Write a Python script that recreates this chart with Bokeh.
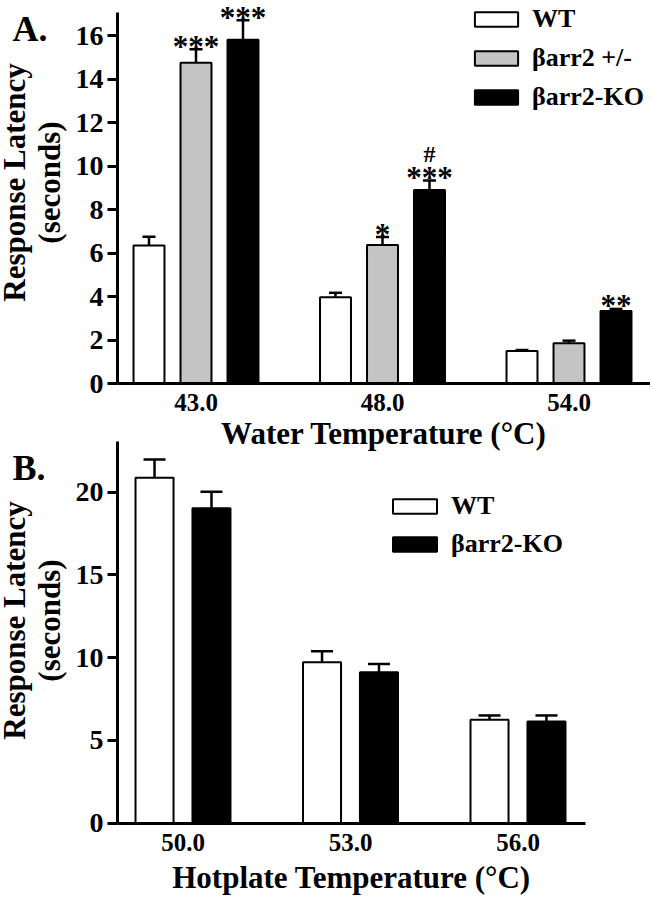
from bokeh.plotting import figure
from bokeh.models import (ColumnDataSource, FixedTicker, Whisker, TeeHead, Label, Range1d,
                          LinearAxis, Legend, LegendItem)
from bokeh.embed import file_html
from bokeh.resources import INLINE
from bokeh.core.properties import value

FONT = "Liberation Serif"

# ---------------- Panel A data ----------------
a_temps = ["43.0", "48.0", "54.0"]
a_series = ["WT", "\u03b2arr2 +/-", "\u03b2arr2-KO"]
a_wt = [6.35, 3.97, 1.49]
a_wt_err = [0.40, 0.20, 0.05]
a_het = [14.75, 6.37, 1.85]
a_het_err = [0.62, 0.36, 0.12]
a_ko = [15.80, 8.90, 3.33]
a_ko_err = [0.90, 0.43, 0.10]
a_yticks = [0, 2, 4, 6, 8, 10, 12, 14, 16]
a_star_group = [0, 0, 1, 1, 2]
a_star_series = [1, 2, 1, 2, 2]
a_star_text = ["***", "***", "*", "***", "**"]
a_hash_group = [1]
a_hash_series = [2]
a_hash_text = ["#"]

# ---------------- Panel B data ----------------
b_temps = ["50.0", "53.0", "56.0"]
b_series = ["WT", "\u03b2arr2-KO"]
b_wt = [20.87, 9.73, 6.25]
b_wt_err = [1.10, 0.66, 0.26]
b_ko = [19.03, 9.12, 6.15]
b_ko_err = [1.00, 0.50, 0.36]
b_yticks = [0, 5, 10, 15, 20]

Y_TITLE = "Response Latency\n(seconds)"
COLORS_A = ["white", "#c4c4c4", "black"]
COLORS_B = ["white", "black"]

# ---------------- layout (pixels inside the figure) ----------------
W, H = 650, 898
# panel A: first group centre, px per group, zero line, px per second
A_C0, A_K, A_Z, A_S = 195.5, 186.5, 383.0, 21.75
A_AXIS_X, A_AXIS_RIGHT, A_AXIS_TOP, A_TITLE_MID = 117.0, 650.0, 12.0, 182.0
A_OFFS, A_BW, A_CAP = [-0.252, 0.0, 0.252], 0.166, 13
# panel B
B_C0, B_K, B_Z, B_S = 182.5, 167.5, 822.7, 16.55
B_AXIS_X, B_AXIS_RIGHT, B_AXIS_TOP, B_TITLE_MID = 117.0, 585.0, 441.0, 620.0
B_OFFS, B_BW, B_CAP = [-0.17, 0.17], 0.227, 22

xa = Range1d(-A_C0 / A_K, (W - A_C0) / A_K)
ya = Range1d(-(H - A_Z) / A_S, A_Z / A_S)
xb = Range1d(-B_C0 / B_K, (W - B_C0) / B_K)
yb = Range1d(-(H - B_Z) / B_S, B_Z / B_S)

p = figure(width=W, height=H, output_backend="svg", toolbar_location=None,
           x_range=xa, y_range=ya, min_border=0)
p.extra_x_ranges = {"xb": xb}
p.extra_y_ranges = {"yb": yb}
p.xgrid.visible = False
p.ygrid.visible = False
p.outline_line_color = None


def style_x(ax, cats, label, label_standoff, title_standoff):
    ax.ticker = FixedTicker(ticks=list(range(len(cats))))
    ax.major_label_overrides = {i: c for i, c in enumerate(cats)}
    ax.axis_line_width = 3
    ax.axis_line_color = "black"
    ax.major_tick_line_color = None
    ax.major_tick_out = 0
    ax.major_tick_in = 0
    ax.minor_tick_line_color = None
    ax.major_label_text_font = FONT
    ax.major_label_text_font_style = "bold"
    ax.major_label_text_font_size = "25px"
    ax.major_label_text_color = "black"
    ax.major_label_standoff = label_standoff
    ax.axis_label = label
    ax.axis_label_text_font = FONT
    ax.axis_label_text_font_style = "bold"
    ax.axis_label_text_font_size = "31px"
    ax.axis_label_text_color = "black"
    ax.axis_label_standoff = title_standoff


def style_y(ax, ticks, with_title):
    ax.ticker = FixedTicker(ticks=ticks)
    ax.axis_line_width = 3
    ax.axis_line_color = "black"
    ax.major_tick_line_width = 3
    ax.major_tick_line_color = "black"
    ax.major_tick_out = 10
    ax.major_tick_in = 0
    ax.minor_tick_line_color = None
    ax.major_label_text_font = FONT
    ax.major_label_text_font_style = "bold"
    ax.major_label_text_font_size = "28px"
    ax.major_label_text_color = "black"
    ax.major_label_standoff = 4
    if with_title:
        # carrier axis: only its title is visible, centred where the reference has it
        ax.axis_line_alpha = 0
        ax.major_tick_line_alpha = 0
        ax.major_label_text_alpha = 0
        ax.axis_label = Y_TITLE
        ax.axis_label_text_font = FONT
        ax.axis_label_text_font_style = "bold"
        ax.axis_label_text_font_size = "31px"
        ax.axis_label_text_line_height = 1.0
        ax.axis_label_text_color = "black"
        ax.axis_label_standoff = 41


# ---- panel A axes (default ranges) ----
ax_a = p.xaxis[0]
ax_a.fixed_location = 0
ax_a.bounds = ((A_AXIS_X - A_C0) / A_K, (A_AXIS_RIGHT - A_C0) / A_K)
style_x(ax_a, a_temps, "Water Temperature (\u00b0C)", 10, 2)
ay_a = p.yaxis[0]
ay_a.fixed_location = (A_AXIS_X - A_C0) / A_K
ay_a.bounds = (0, (A_Z - A_AXIS_TOP) / A_S)
style_y(ay_a, a_yticks, False)
a_mid = (A_Z - A_TITLE_MID) / A_S
ayt_a = LinearAxis(fixed_location=(A_AXIS_X - A_C0) / A_K, bounds=(a_mid - 7, a_mid + 7))
style_y(ayt_a, a_yticks, True)
p.add_layout(ayt_a, "left")

# ---- panel B axes (extra ranges) ----
ax_b = LinearAxis(x_range_name="xb", y_range_name="yb", fixed_location=0,
                  bounds=((B_AXIS_X - B_C0) / B_K, (B_AXIS_RIGHT - B_C0) / B_K))
style_x(ax_b, b_temps, "Hotplate Temperature (\u00b0C)", 11, 5)
p.add_layout(ax_b, "below")
ay_b = LinearAxis(x_range_name="xb", y_range_name="yb",
                  fixed_location=(B_AXIS_X - B_C0) / B_K,
                  bounds=(0, (B_Z - B_AXIS_TOP) / B_S))
style_y(ay_b, b_yticks, False)
p.add_layout(ay_b, "left")
b_mid = (B_Z - B_TITLE_MID) / B_S
ayt_b = LinearAxis(x_range_name="xb", y_range_name="yb",
                   fixed_location=(B_AXIS_X - B_C0) / B_K, bounds=(b_mid - 9, b_mid + 9))
style_y(ayt_b, [10, 15, 20], True)
p.add_layout(ayt_b, "left")


def bars(series, vals, errs, colors, offs, bw, cap, xr, yr):
    items = []
    for s, (name, v, e, c) in enumerate(zip(series, vals, errs, colors)):
        xs = [g + offs[s] for g in range(len(v))]
        src = ColumnDataSource(dict(x=xs, top=v, upper=[a + b for a, b in zip(v, e)]))
        p.add_layout(Whisker(base="x", lower="top", upper="upper", source=src,
                             x_range_name=xr, y_range_name=yr,
                             line_width=2.5, line_color="black", lower_head=None,
                             upper_head=TeeHead(size=cap, line_width=2.5, line_color="black")))
        r = p.vbar(x="x", top="top", width=bw, source=src, fill_color=c, line_color="black",
                   line_width=2, x_range_name=xr, y_range_name=yr)
        items.append(LegendItem(label=name, renderers=[r]))
    return items


def legend(items, loc, gw, spacing):
    lg = Legend(items=items, location=loc, glyph_width=gw, glyph_height=18,
                label_standoff=9, label_text_font=FONT, label_text_font_style="bold",
                label_text_font_size="26px", label_text_color="black",
                border_line_color=None, background_fill_alpha=0, padding=0, margin=0,
                spacing=spacing, label_height=29)
    p.add_layout(lg)


items_a = bars(a_series, [a_wt, a_het, a_ko], [a_wt_err, a_het_err, a_ko_err], COLORS_A,
               A_OFFS, A_BW, A_CAP, "default", "default")
legend(items_a, (469, 786), 54, 9)
items_b = bars(b_series, [b_wt, b_ko], [b_wt_err, b_ko_err], COLORS_B,
               B_OFFS, B_BW, B_CAP, "xb", "yb")
legend(items_b, (387, 339), 55, 8)

vals_lookup = [a_wt, a_het, a_ko]
errs_lookup = [a_wt_err, a_het_err, a_ko_err]


def ann_source(groups, series, texts):
    return ColumnDataSource(dict(
        x=[g + A_OFFS[s] for g, s in zip(groups, series)],
        y=[vals_lookup[s][g] + errs_lookup[s][g] for g, s in zip(groups, series)],
        t=texts))


p.text(x="x", y="y", text="t", source=ann_source(a_star_group, a_star_series, a_star_text),
       text_font=value(FONT), text_font_style="bold", text_font_size="31px",
       text_align="center", text_baseline="alphabetic", text_color="black", y_offset=-3)
p.text(x="x", y="y", text="t", source=ann_source(a_hash_group, a_hash_series, a_hash_text),
       text_font=value(FONT), text_font_style="bold", text_font_size="24px",
       text_align="center", text_baseline="alphabetic", text_color="black", y_offset=-27)

for letter, ly in (("A.", H - 28), ("B.", H - 467)):
    p.add_layout(Label(x=12, y=ly, x_units="screen", y_units="screen", text=letter,
                       text_font=FONT, text_font_style="bold", text_font_size="36px",
                       text_color="black", text_baseline="alphabetic"))

open("out.html", "w").write(file_html(p, INLINE))
